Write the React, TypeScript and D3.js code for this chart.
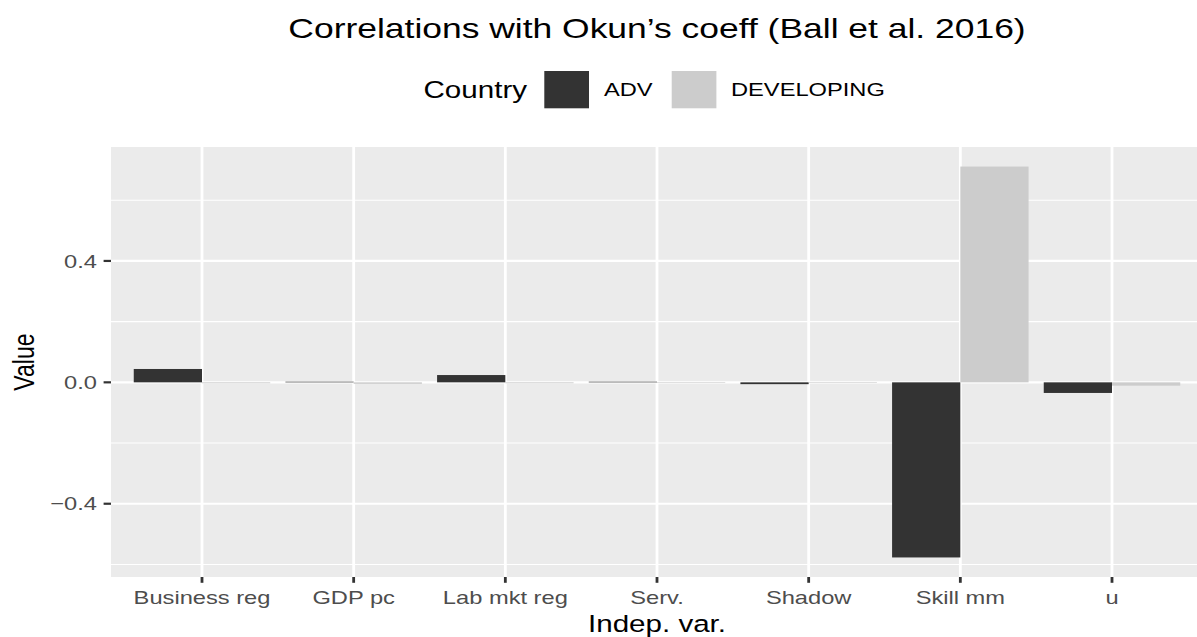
import React from "react";
import * as d3 from "d3";

const categories = ["Business reg", "GDP pc", "Lab mkt reg", "Serv.", "Shadow", "Skill mm", "u"];
const series = ["ADV", "DEVELOPING"];
const advValues = [0.044, 0.002, 0.024, 0.002, -0.006, -0.577, -0.035];
const devValues = [-0.003, -0.005, -0.003, -0.002, -0.002, 0.711, -0.011];
const yTicks = [-0.4, 0.0, 0.4];
const yMinor = [-0.6, -0.2, 0.2, 0.6];
const seriesColors = ["#333333", "#CCCCCC"];

const W = 1197;
const H = 637;
const SX = 1.28;
const FONT = "'Liberation Sans', Arial, Helvetica, sans-serif";

function T(props: {
  x: number; y: number; size: number; fill?: string; anchor?: string; rotate?: boolean; dy?: string; children: React.ReactNode;
}) {
  const { x, y, size, fill = "#000", anchor = "start", rotate = false, dy, children } = props;
  const tr = `translate(${x},${y}) scale(${SX},1)` + (rotate ? " rotate(-90)" : "");
  return (
    <text transform={tr} fontSize={size} fill={fill} textAnchor={anchor} fontFamily={FONT} dy={dy}>
      {children}
    </text>
  );
}

export default function App() {
  const panel = { left: 111, right: 1203, top: 147, bottom: 577 };

  const x = d3.scaleBand<string>().domain(categories).range([panel.left, panel.right]).paddingInner(0).paddingOuter(0.1);
  const step = x.step();
  const sub = d3.scaleBand<string>().domain(series).range([0, step * 0.9]);

  const all = [...advValues, ...devValues, 0];
  const lo = d3.min(all) as number;
  const hi = d3.max(all) as number;
  const pad = (hi - lo) * 0.05;
  const y = d3.scaleLinear().domain([lo - pad, hi + pad]).range([panel.bottom, panel.top]);

  const data = categories.flatMap((c, i) => [
    { c, s: series[0], v: advValues[i], color: seriesColors[0] },
    { c, s: series[1], v: devValues[i], color: seriesColors[1] },
  ]);

  const center = (c: string) => (x(c) as number) + step / 2;

  return (
    <svg width={W} height={H} style={{ position: "absolute", left: 0, top: 0, background: "#fff" }}>
      <rect x={0} y={0} width={W} height={H} fill="#fff" />
      {/* title */}
      <T x={657} y={38} size={27.7} anchor="middle">Correlations with Okun’s coeff (Ball et al. 2016)</T>

      {/* legend */}
      <T x={527} y={89.7} size={23.1} anchor="end" dy="0.36em">Country</T>
      <rect x={544.3} y={71} width={44.7} height={37.3} fill={seriesColors[0]} />
      <T x={604} y={89.7} size={18.5} fill="#000" dy="0.36em">{series[0]}</T>
      <rect x={671.7} y={71} width={44.7} height={37.3} fill={seriesColors[1]} />
      <T x={731} y={89.7} size={18.5} fill="#000" dy="0.36em">{series[1]}</T>

      {/* panel */}
      <rect x={panel.left} y={panel.top} width={panel.right - panel.left} height={panel.bottom - panel.top} fill="#EBEBEB" />
      {yMinor.map((v) => (
        <line key={"mn" + v} x1={panel.left} x2={panel.right} y1={y(v)} y2={y(v)} stroke="#fff" strokeWidth={1.1} />
      ))}
      {yTicks.map((v) => (
        <line key={"mj" + v} x1={panel.left} x2={panel.right} y1={y(v)} y2={y(v)} stroke="#fff" strokeWidth={2.2} />
      ))}
      {categories.map((c) => (
        <line key={"vg" + c} x1={center(c)} x2={center(c)} y1={panel.top} y2={panel.bottom} stroke="#fff" strokeWidth={2.8} />
      ))}

      {/* bars */}
      {data.map((d) => {
        const bx = (x(d.c) as number) + step * 0.05 + (sub(d.s) as number);
        const y0 = y(0);
        const y1 = y(d.v);
        return (
          <rect key={d.c + d.s} x={bx} width={sub.bandwidth()} y={Math.min(y0, y1)} height={Math.abs(y1 - y0)} fill={d.color} />
        );
      })}

      {/* y axis */}
      {yTicks.map((v) => (
        <g key={"yt" + v}>
          <line x1={103.6} x2={panel.left} y1={y(v)} y2={y(v)} stroke="#333333" strokeWidth={2.2} />
          <T x={97} y={y(v)} size={18.5} fill="#4D4D4D" anchor="end" dy="0.36em">
            {v === 0 ? "0.0" : (v < 0 ? "\u2212" : "") + Math.abs(v).toFixed(1)}
          </T>
        </g>
      ))}
      <T x={34.3} y={(panel.top + panel.bottom) / 2} size={23.1} anchor="middle" rotate>Value</T>

      {/* x axis */}
      {categories.map((c) => (
        <g key={"xt" + c}>
          <line x1={center(c)} x2={center(c)} y1={panel.bottom} y2={panel.bottom + 5.8} stroke="#333333" strokeWidth={2.8} />
          <T x={center(c)} y={603.5} size={18.5} fill="#4D4D4D" anchor="middle">{c}</T>
        </g>
      ))}
      <T x={(panel.left + panel.right) / 2} y={632} size={23.1} anchor="middle">Indep. var.</T>
    </svg>
  );
}
